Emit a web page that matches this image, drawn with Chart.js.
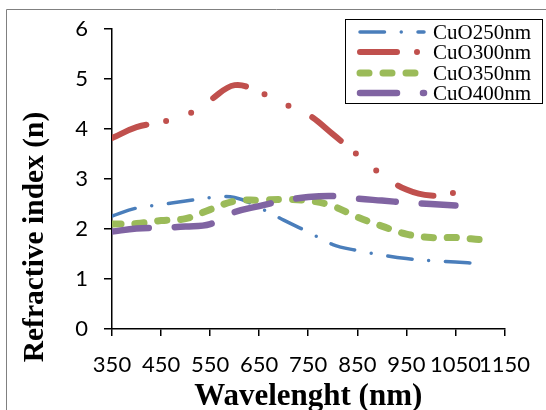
<!DOCTYPE html>
<html>
<head>
<meta charset="utf-8">
<script src="https://cdn.jsdelivr.net/npm/chart.js@4"></script>
<style>
  html, body { margin: 0; padding: 0; background: #fff; }
  #wrap { width: 546px; height: 410px; }
</style>
</head>
<body>
<div id="wrap"><canvas id="plot"></canvas></div>
<script>
// wavelength (nm) and refractive index for each film
const wavelengths = [350, 400, 450, 500, 550, 600, 650, 700, 750, 800, 850, 900, 950, 1000, 1050, 1100];
const n250 = [2.26, 2.42, 2.49, 2.56, 2.63, 2.63, 2.43, 2.18, 1.94, 1.69, 1.57, 1.48, 1.41, 1.37, 1.34, 1.31];
const n300 = [3.82, 4.04, 4.14, 4.27, 4.58, 4.88, 4.74, 4.51, 4.29, 3.90, 3.49, 3.09, 2.79, 2.67, 2.73];
const n350 = [2.10, 2.11, 2.17, 2.21, 2.39, 2.56, 2.58, 2.59, 2.57, 2.46, 2.24, 2.06, 1.90, 1.83, 1.83, 1.79];
const n400 = [1.95, 2.01, 2.03, 2.05, 2.10, 2.34, 2.46, 2.57, 2.64, 2.66, 2.61, 2.57, 2.53, 2.50, 2.47];

const seriesLabels = ["CuO250nm", "CuO300nm", "CuO350nm", "CuO400nm"];
const xTicks = [350, 450, 550, 650, 750, 850, 950, 1050, 1150];

function pts(ys) {
    return ys.map((y, i) => ({ x: wavelengths[i], y: y }));
}

// frame, y title and boxed legend
const extras = {
    id: "extras",
    beforeDraw(chart) {
        const ctx = chart.ctx;
        ctx.save();
        ctx.strokeStyle = "#808080";
        ctx.lineWidth = 1;
        ctx.beginPath();
        ctx.moveTo(546, 9.5);
        ctx.lineTo(6.5, 9.5);
        ctx.lineTo(6.5, 410);
        ctx.stroke();
        ctx.restore();
    },
    afterDraw(chart) {
        const ctx = chart.ctx;
        ctx.save();
        ctx.translate(35, 237);
        ctx.rotate(-Math.PI / 2);
        ctx.fillStyle = "#000";
        ctx.font = "bold 29.5px 'Liberation Serif'";
        ctx.textAlign = "center";
        ctx.textBaseline = "middle";
        ctx.fillText("Refractive index (n)", 0, 0);
        ctx.restore();

        // legend
        ctx.save();
        ctx.fillStyle = "#fff";
        ctx.fillRect(345.5, 19.5, 197, 84);
        ctx.strokeStyle = "#000";
        ctx.lineWidth = 1;
        ctx.strokeRect(345.5, 19.5, 197, 84);
        const rows = [32, 52, 73, 93];
        chart.data.datasets.forEach((ds, i) => {
            const y = rows[i];
            ctx.strokeStyle = ds.borderColor;
            ctx.lineWidth = ds.borderWidth;
            ctx.lineCap = "round";
            ctx.setLineDash(ds.borderDash);
            ctx.beginPath();
            ctx.moveTo(360, y);
            ctx.lineTo(424, y);
            ctx.stroke();
            ctx.setLineDash([]);
            ctx.fillStyle = "#000";
            ctx.font = "21px 'Liberation Serif'";
            ctx.textBaseline = "middle";
            ctx.textAlign = "left";
            ctx.fillText(ds.label, 433, y + 1);
        });
        ctx.restore();
    }
};

const common = { fill: false, pointRadius: 0, tension: 0.4, borderCapStyle: "round", borderJoinStyle: "round" };

new Chart(document.getElementById("plot").getContext("2d"), {
    type: "line",
    data: {
        datasets: [
            Object.assign({ label: seriesLabels[0], data: pts(n250), borderColor: "#4A7EBB", borderWidth: 3.5, borderDash: [24.5, 16.75, 0, 16.75], order: 3 }, common),
            Object.assign({ label: seriesLabels[1], data: pts(n300), borderColor: "#C0504D", borderWidth: 6, borderDash: [37, 20, 0, 26.5, 0, 26.5], order: 2 }, common),
            Object.assign({ label: seriesLabels[2], data: pts(n350), borderColor: "#9BBB59", borderWidth: 7, borderDash: [9, 14], order: 1 }, common),
            Object.assign({ label: seriesLabels[3], data: pts(n400), borderColor: "#8064A2", borderWidth: 6.5, borderDash: [37, 26], order: 0 }, common),
        ],
    },
    options: {
        responsive: true,
        maintainAspectRatio: false,
        animation: false,
        layout: { padding: { left: 0, top: 29, right: 39, bottom: 0 } },
        plugins: { legend: { display: false }, tooltip: { enabled: false } },
        scales: {
            x: {
                type: "linear",
                min: 350,
                max: 1150,
                afterBuildTicks: (scale) => { scale.ticks = xTicks.map(v => ({ value: v })); },
                afterFit: (scale) => { scale.height = 81; },
                grid: { display: true, drawOnChartArea: false, drawTicks: true, tickLength: 7, color: "#000", lineWidth: 1.5 },
                border: { display: true, color: "#000", width: 1.5 },
                ticks: { autoSkip: false, maxRotation: 0, minRotation: 0, padding: 16, color: "#000", font: { family: "Lato", size: 22 }, callback: (v) => String(v) },
                title: { display: true, text: "Wavelenght (nm)", color: "#000", font: { family: "'Liberation Serif'", size: 31, weight: "bold", lineHeight: 0.84 }, padding: { top: 0, bottom: 0 } },
            },
            y: {
                min: 0,
                max: 6,
                afterFit: (scale) => { scale.width = 112; },
                grid: { display: true, drawOnChartArea: false, drawTicks: true, tickLength: 8, color: "#000", lineWidth: 1.5 },
                border: { display: true, color: "#000", width: 1.5 },
                ticks: { stepSize: 1, padding: 16, color: "#000", font: { family: "Lato", size: 22 } },
            },
        },
    },
    plugins: [extras],
});
</script>
</body>
</html>
